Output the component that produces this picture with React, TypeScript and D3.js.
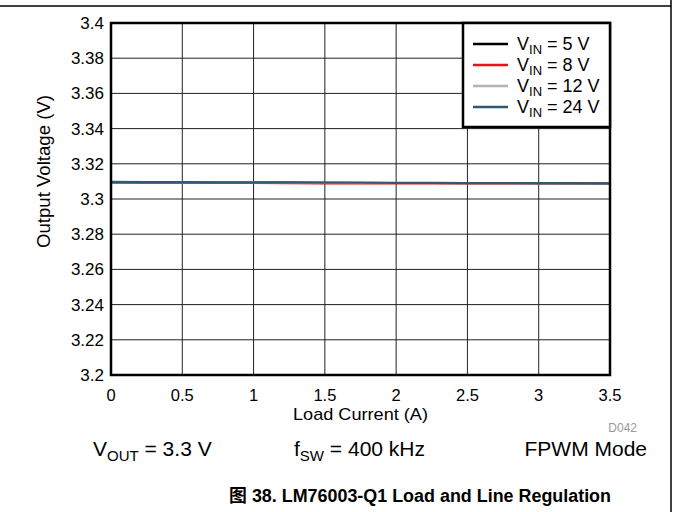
import React from "react";
import * as d3 from "d3";

const loadCurrent = [0, 0.25, 0.5, 0.75, 1, 1.25, 1.5, 1.75, 2, 2.25, 2.5, 2.75, 3, 3.25, 3.5];
const vin5 = [3.3096, 3.3095, 3.3095, 3.3094, 3.3094, 3.3093, 3.3092, 3.3091, 3.3091, 3.3091, 3.309, 3.309, 3.309, 3.3089, 3.3089];
const vin8 = [3.3092, 3.3092, 3.3092, 3.3091, 3.3091, 3.309, 3.3089, 3.3089, 3.3089, 3.3089, 3.3089, 3.3089, 3.3089, 3.3088, 3.3088];
const vin12 = [3.3095, 3.3095, 3.3095, 3.3094, 3.3094, 3.3093, 3.3092, 3.3092, 3.3091, 3.3091, 3.309, 3.309, 3.309, 3.3089, 3.3089];
const vin24 = [3.3097, 3.3096, 3.3096, 3.3095, 3.3095, 3.3094, 3.3093, 3.3093, 3.3092, 3.3092, 3.3091, 3.3091, 3.309, 3.309, 3.3089];

const xTicks = [0, 0.5, 1, 1.5, 2, 2.5, 3, 3.5];
const yTicks = [3.2, 3.22, 3.24, 3.26, 3.28, 3.3, 3.32, 3.34, 3.36, 3.38, 3.4];

const seriesNames = ["5 V", "8 V", "12 V", "24 V"];
const seriesColors = ["#000000", "#e8121b", "#b3b3b3", "#2e5b73"];
const seriesValues = [vin5, vin8, vin12, vin24];

const FONT = "'Liberation Sans', Arial, Helvetica, sans-serif";

export default function App() {
  const W = 673, H = 512;
  const left = 111, right = 610, top = 23, bottom = 375;
  const x = d3.scaleLinear().domain([0, 3.5]).range([left, right]);
  const y = d3.scaleLinear().domain([3.2, 3.4]).range([bottom, top]);
  const line = d3.line<number>().x((_, i) => x(loadCurrent[i])).y((d) => y(d));

  const legX = 463, legY = 23, legW = 147, legH = 104;

  return (
    <svg width={W} height={H} style={{ position: "absolute", left: 0, top: 0, background: "#fff" }} fontFamily={FONT}>
      <rect x={0} y={0} width={W} height={H} fill="#fff" />
      <line x1={0} x2={671} y1={6} y2={6} stroke="#000" strokeWidth={1.5} />
      <line x1={671} x2={671} y1={0} y2={H} stroke="#000" strokeWidth={1.5} />

      {xTicks.slice(1, -1).map((t) => (
        <line key={"gx" + t} x1={x(t)} x2={x(t)} y1={top} y2={bottom} stroke="#222" strokeWidth={1} />
      ))}
      {yTicks.slice(1, -1).map((t) => (
        <line key={"gy" + t} x1={left} x2={right} y1={y(t)} y2={y(t)} stroke="#222" strokeWidth={1} />
      ))}

      {[vin8, vin5, vin12, vin24].map((vals, k) => {
        const idx = seriesValues.indexOf(vals);
        return <path key={k} d={line(vals) || ""} fill="none" stroke={seriesColors[idx]} strokeWidth={2.2} />;
      })}

      <rect x={left} y={top} width={right - left} height={bottom - top} fill="none" stroke="#000" strokeWidth={2.5} />

      {yTicks.map((t) => (
        <text key={"ty" + t} x={104} y={y(t) + 6} textAnchor="end" fontSize={17} fill="#000">
          {d3.format("~g")(t)}
        </text>
      ))}
      {xTicks.map((t) => (
        <text key={"tx" + t} x={x(t)} y={401} textAnchor="middle" fontSize={16.5} fill="#000">
          {d3.format("~g")(t)}
        </text>
      ))}
      <text x={360.5} y={420} textAnchor="middle" fontSize={17} textLength={135} lengthAdjust="spacingAndGlyphs">Load Current (A)</text>
      <text transform={`translate(50,${171.5}) rotate(-90)`} textAnchor="middle" fontSize={18} textLength={153} lengthAdjust="spacingAndGlyphs">
        Output Voltage (V)
      </text>

      <rect x={legX} y={legY} width={legW} height={legH} fill="#fff" stroke="#000" strokeWidth={2.5} />
      {seriesNames.map((n, i) => {
        const ry = 44 + i * 21;
        return (
          <g key={n}>
            <line x1={473} x2={508} y1={ry} y2={ry} stroke={seriesColors[i]} strokeWidth={2.5} />
            <text x={517} y={ry + 6} fontSize={18}>
              V<tspan fontSize={13} dy={4}>IN</tspan>
              <tspan dy={-4}> = {n}</tspan>
            </text>
          </g>
        );
      })}

      <text x={637} y={432} textAnchor="end" fontSize={12} fill="#999">D042</text>

      <text x={93} y={456} fontSize={21}>
        V<tspan fontSize={15} dy={5}>OUT</tspan>
        <tspan dy={-5}> = 3.3 V</tspan>
      </text>
      <text x={294} y={456} fontSize={21}>
        f<tspan fontSize={15} dy={5}>SW</tspan>
        <tspan dy={-5}> = 400 kHz</tspan>
      </text>
      <text x={647} y={456} textAnchor="end" fontSize={21}>FPWM Mode</text>

      <text x={420} y={502} textAnchor="middle" fontSize={18} fontWeight="bold" fontFamily={`${FONT}, 'Noto Sans CJK SC'`} textLength={382} lengthAdjust="spacingAndGlyphs">
        图 38. LM76003-Q1 Load and Line Regulation
      </text>
    </svg>
  );
}
